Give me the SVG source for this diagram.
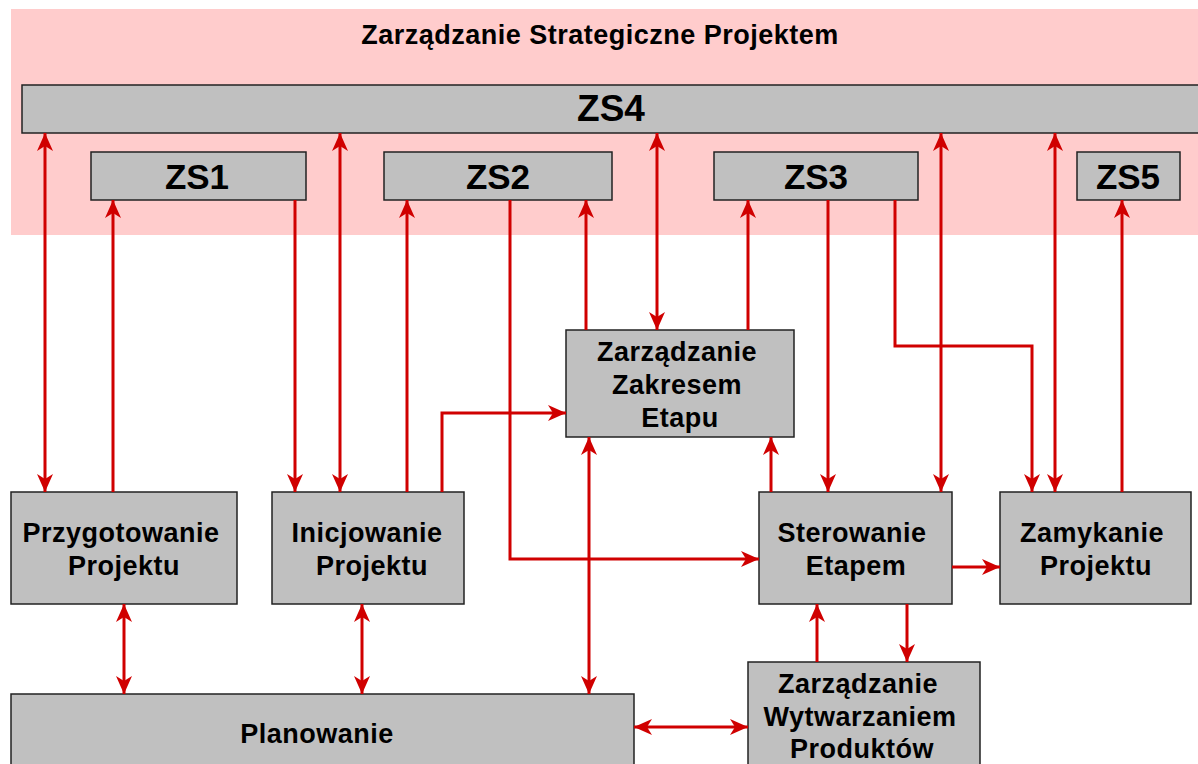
<svg xmlns="http://www.w3.org/2000/svg" width="1198" height="764" viewBox="0 0 1198 764">
<style>
.box{fill:#C0C0C0;stroke:#222;stroke-width:1.5}
.t{font-family:"Liberation Sans",Arial,sans-serif;font-weight:bold;fill:#000;text-anchor:middle}
.n{font-size:27px;letter-spacing:0.5px}
.zs{font-size:35px}
.c{fill:none;stroke:#D00000;stroke-width:3}
.e{marker-end:url(#ah)}
.b{marker-start:url(#ah);marker-end:url(#ah)}
</style>
<defs>
<marker id="ah" viewBox="0 0 18 16" refX="18" refY="8" markerWidth="18" markerHeight="16" markerUnits="userSpaceOnUse" orient="auto-start-reverse">
<path d="M0,0 L18,8 L0,16 L5,8 Z" fill="#D00000"/>
</marker>
</defs>
<rect x="0" y="0" width="1198" height="764" fill="#fff"/>
<g id="strategic-area">
<rect x="11" y="9" width="1187" height="226" fill="#FFCCCC"/>
<text class="t n" x="600" y="44">Zarządzanie Strategiczne Projektem</text>
</g>
<g id="zs4"><rect class="box" x="22" y="85" width="1190" height="48"/><text class="t zs" x="611" y="121" style="font-size:37px">ZS4</text></g>
<g id="zs1"><rect class="box" x="91" y="152" width="215" height="48"/><text class="t zs" x="197" y="189">ZS1</text></g>
<g id="zs2"><rect class="box" x="384" y="152" width="228" height="48"/><text class="t zs" x="498" y="189">ZS2</text></g>
<g id="zs3"><rect class="box" x="714" y="152" width="204" height="48"/><text class="t zs" x="816" y="189">ZS3</text></g>
<g id="zs5"><rect class="box" x="1077" y="152" width="103" height="48"/><text class="t zs" x="1128" y="189">ZS5</text></g>
<g id="zakres"><rect class="box" x="566" y="330" width="228" height="107"/><text class="t n" x="677" y="361">Zarządzanie</text><text class="t n" x="677" y="394">Zakresem</text><text class="t n" x="680" y="427">Etapu</text></g>
<g id="przygotowanie"><rect class="box" x="11" y="492" width="226" height="112"/><text class="t n" x="121" y="542">Przygotowanie</text><text class="t n" x="124" y="575">Projektu</text></g>
<g id="inicjowanie"><rect class="box" x="272" y="492" width="192" height="112"/><text class="t n" x="367" y="542">Inicjowanie</text><text class="t n" x="372" y="575">Projektu</text></g>
<g id="sterowanie"><rect class="box" x="759" y="492" width="193" height="112"/><text class="t n" x="852" y="542">Sterowanie</text><text class="t n" x="856" y="575">Etapem</text></g>
<g id="zamykanie"><rect class="box" x="1000" y="492" width="191" height="112"/><text class="t n" x="1092" y="542">Zamykanie</text><text class="t n" x="1096" y="575">Projektu</text></g>
<g id="planowanie"><rect class="box" x="11" y="694" width="623" height="85"/><text class="t n" x="317" y="743">Planowanie</text></g>
<g id="wytwarzanie"><rect class="box" x="748" y="662" width="232" height="115"/><text class="t n" x="858" y="693">Zarządzanie</text><text class="t n" x="860" y="726">Wytwarzaniem</text><text class="t n" x="862" y="758">Produktów</text></g>
<g id="connectors">
<path class="c b" d="M45,133 V492"/>
<path class="c e" d="M113,492 V200"/>
<path class="c e" d="M295,200 V492"/>
<path class="c b" d="M340,133 V492"/>
<path class="c e" d="M407,492 V200"/>
<path class="c e" d="M510,200 V559 H759"/>
<path class="c e" d="M442,492 V413 H566"/>
<path class="c e" d="M586,330 V200"/>
<path class="c b" d="M589,437 V694"/>
<path class="c b" d="M657,133 V330"/>
<path class="c e" d="M748,330 V200"/>
<path class="c e" d="M828,200 V492"/>
<path class="c e" d="M895,200 V346 H1032 V492"/>
<path class="c b" d="M941,133 V492"/>
<path class="c b" d="M1055,133 V492"/>
<path class="c e" d="M1122,492 V200"/>
<path class="c e" d="M771,492 V437"/>
<path class="c b" d="M124,604 V694"/>
<path class="c b" d="M362,604 V694"/>
<path class="c e" d="M952,567 H1000"/>
<path class="c e" d="M817,662 V604"/>
<path class="c e" d="M907,604 V662"/>
<path class="c b" d="M634,727 H748"/>
</g>
</svg>
